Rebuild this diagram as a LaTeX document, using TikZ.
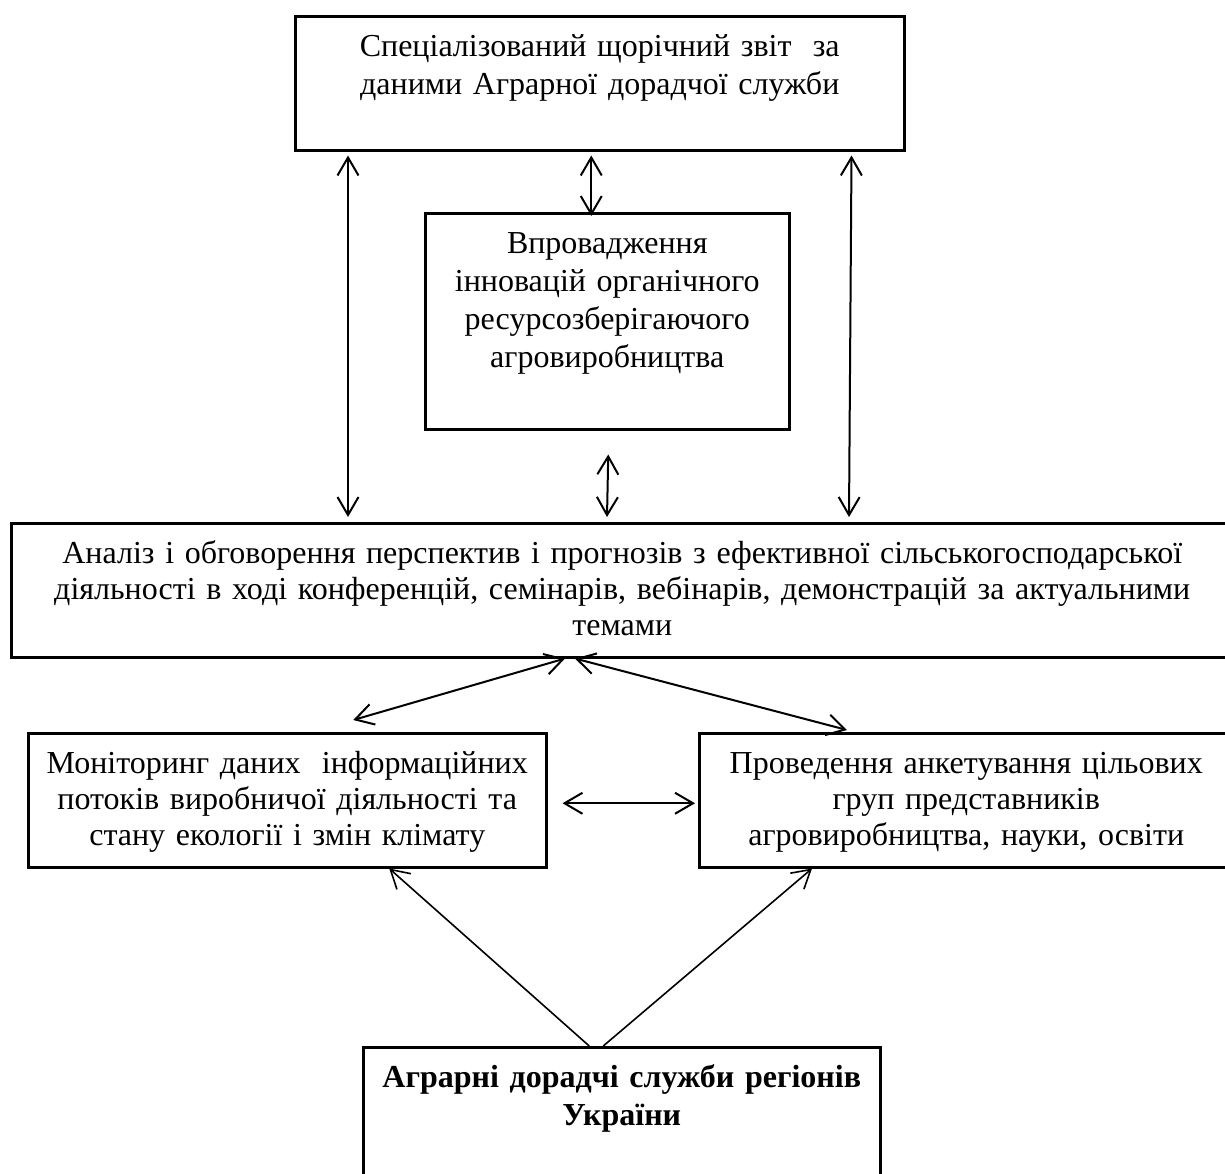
\documentclass[tikz,border=0pt]{standalone}
\usepackage{fontspec}
\setmainfont{Liberation Serif}
\usetikzlibrary{arrows.meta}

\begin{document}
\begin{tikzpicture}[x=0.5pt, y=-0.5pt, <->, >={Straight Barb[length=9pt,width=10.5pt]},
    every edge/.append style={line width=1pt},
    panel/.style={draw, line width=1.25pt, anchor=north west, align=center,
        inner xsep=4pt, inner ysep=2pt, text height=18pt, text depth=45pt,
        font=\fontsize{16}{19}\selectfont},
    tight/.style={font=\fontsize{16}{18}\selectfont}]
                \useasboundingbox (0,0) rectangle (1225,1173);
                \node[panel, minimum width=304.5pt, text width=296pt] (report) at (294,15)
                    {Спеціалізований щорічний звіт\ \ за\\даними Аграрної дорадчої служби};
                \node[panel, minimum width=182pt, text width=174pt, text depth=86pt] (innov) at (424,212)
                    {Впровадження\\інновацій органічного\\ресурсозберігаючого\\агровиробництва};
                \node[panel, tight, minimum width=611pt, text width=600pt] (wide) at (10,522)
                    {Аналіз і обговорення перспектив і прогнозів з ефективної сільськогосподарської\\діяльності в ході конференцій, семінарів, вебінарів, демонстрацій за актуальними\\темами};
                \node[panel, tight, minimum width=259pt, text width=251pt] (monitor) at (27,732)
                    {Моніторинг даних\ \ інформаційних\\потоків виробничої діяльності та\\стану екології і змін клімату};
                \node[panel, tight, minimum width=267pt, text width=256pt] (survey) at (698,732)
                    {Проведення анкетування цільових\\груп представників\\агровиробництва, науки, освіти};
                \node[panel, minimum width=258.5pt, text width=250pt] (services) at (362,1046)
                    {\bfseries Аграрні дорадчі служби регіонів\\України};
                \path
                    ([xshift=27pt,yshift=-2pt]report.south west) edge ([xshift=169pt,yshift=2.5pt]wide.north west)
                    ([xshift=-4.25pt,yshift=-2pt]report.south) edge ([xshift=-8pt,yshift=-2pt]innov.north)
                    ([xshift=-27pt,yshift=-2pt]report.south east) edge ([xshift=419.5pt,yshift=2.5pt]wide.north west)
                    ([xshift=0.5pt,yshift=-12pt]innov.south) edge ([xshift=298.5pt,yshift=2.5pt]wide.north west);
                \path
                    ([xshift=277.5pt]wide.south west) edge ([xshift=33pt,yshift=6pt]monitor.north)
                    ([xshift=282.5pt]wide.south west) edge ([xshift=74.5pt,yshift=1pt]survey.north west)
                    ([xshift=7.5pt,yshift=-1.5pt]monitor.east) edge ([xshift=-1.5pt,yshift=-1.5pt]survey.west);
                \path[every edge/.append style={line width=0.8pt}]
                    ([xshift=-16.25pt]services.north) edge[->] ([xshift=51pt]monitor.south)
                    ([xshift=-9.25pt]services.north) edge[->] ([xshift=57pt]survey.south west);
            \end{tikzpicture}
\end{document}
